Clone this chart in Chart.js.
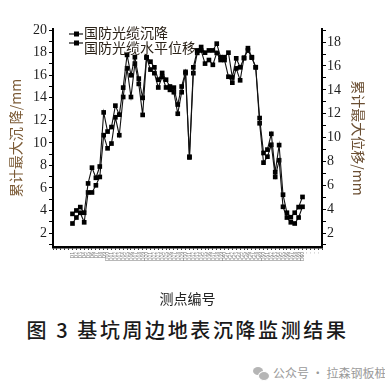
<!DOCTYPE html>
<html lang="zh">
<head>
  <meta charset="UTF-8">
  <title>基坑周边地表沉降监测结果</title>
  <style>
    body {
      margin: 0;
      background: #fff;
      width: 385px;
      height: 389px;
      position: relative;
      overflow: hidden;
      font-family: "Noto Sans CJK SC", sans-serif;
    }
    #chartBox {
      position: absolute;
      left: 0;
      top: 0;
      width: 385px;
      height: 312px;
    }
    .caption {
      position: absolute;
      left: 0;
      top: 316px;
      width: 375px;
      text-align: center;
      font-size: 20px;
      line-height: 28px;
      letter-spacing: 2.6px;
      color: #1a1a1a;
      font-weight: 500;
    }
    .mark {
      position: absolute;
      left: 253px;
      top: 364px;
      font-size: 12px;
      line-height: 18px;
      color: #9a9a9a;
      white-space: nowrap;
    }
    /* little wechat-like icon */
    .mark .icon {
      display: inline-block;
      position: relative;
      width: 15px;
      height: 13px;
      vertical-align: -2px;
      margin-right: 5px;
    }
    .mark .icon i {
      position: absolute;
      border-radius: 50%;
      background: #b5b5b5;
    }
    .mark .icon i.a { left: 0; top: 0; width: 10px; height: 8px; }
    .mark .icon i.b { left: 5px; top: 4px; width: 10px; height: 8px; border: 1px solid #fff; }
  </style>
</head>
<body>
  <div id="chartBox">
    <canvas id="monitorChart" width="385" height="312"></canvas>
  </div>
  <div class="caption">图 3 基坑周边地表沉降监测结果</div>
  <div class="mark"><span class="icon"><i class="a"></i><i class="b"></i></span>公众号 · 拉森钢板桩</div>

  <script src="https://cdn.jsdelivr.net/npm/chart.js"></script>
  <script>
    // measuring points (the tick labels are too small to read, so they are simple ids)
    const pointNames = [
      'D1', 'D2', 'D3', 'D4', 'D5', 'D6', 'D7', 'D8', 'D9', 'D10',
      'D11', 'D12', 'D13', 'D14', 'D15', 'D16', 'D17', 'D18', 'D19', 'D20',
      'D21', 'D22', 'D23', 'D24', 'D25', 'D26', 'D27', 'D28', 'D29', 'D30',
      'D31', 'D32', 'D33', 'D34', 'D35', 'D36', 'D37', 'D38', 'D39', 'D40',
      'D41', 'D42', 'D43', 'D44', 'D45', 'D46', 'D47', 'D48', 'D49', 'D50',
      'D51', 'D52', 'D53', 'D54', 'D55', 'D56', 'D57', 'D58', 'D59', 'D60'
    ];
    // empty slots at both ends of the axis
    const leadSlots = ['', '', '', '', ''];
    const tailSlots = ['-', '-', '-', '-', ''];

    // 国防光缆沉降 (left axis, mm)
    const settlement = [
      3.7, 4.0, 4.3, 3.8, 6.4, 7.8, 6.9, 7.9, 12.7, 11.0,
      11.4, 13.3, 12.5, 14.9, 17.8, 16.0, 17.6, 15.7, 14.0, 17.6,
      17.2, 16.7, 15.6, 16.2, 15.6, 15.0, 14.9, 13.4, 15.0, 16.3,
      8.7, 16.7, 18.2, 18.5, 18.0, 18.2, 18.2, 18.8, 17.6, 17.6,
      18.0, 15.8, 17.5, 16.7, 17.5, 18.4, 17.6, 16.7, 12.2, 9.1,
      9.4, 10.8, 7.4, 9.8, 5.4, 3.8, 3.4, 3.8, 4.3, 5.2
    ];
    // 国防光缆水平位移 (right axis, mm)
    const horizontal = [
      2.8, 3.3, 3.7, 2.9, 5.4, 5.4, 6.0, 6.7, 10.2, 9.1,
      9.5, 11.7, 10.2, 13.4, 15.8, 13.4, 16.2, 14.5, 11.9, 16.7,
      15.7, 15.4, 14.2, 15.1, 14.2, 14.0, 13.8, 12.0, 13.8, 15.4,
      8.4, 15.4, 17.1, 17.3, 16.2, 16.5, 16.1, 17.1, 16.5, 16.5,
      15.1, 14.6, 15.8, 14.8, 16.7, 17.3, 16.7, 15.9, 11.2, 7.9,
      8.4, 9.4, 6.7, 8.1, 4.2, 3.3, 2.9, 2.8, 3.3, 4.2
    ];

    const labels = leadSlots.concat(pointNames, tailSlots);
    const pad = arr => leadSlots.map(() => null).concat(arr, tailSlots.map(() => null));

    const serif = 'Liberation Serif';
    const cjk = 'Noto Sans CJK SC';

    // legend drawn inside the plot, line + square marker like the original
    const insideLegend = {
      id: 'insideLegend',
      afterDraw(chart) {
        const ctx = chart.ctx;
        const rows = [[34, 33], [43, 48]];
        ctx.save();
        chart.data.datasets.forEach((ds, i) => {
          const [ly, ty] = rows[i];
          ctx.strokeStyle = '#111';
          ctx.lineWidth = 1.2;
          ctx.beginPath();
          ctx.moveTo(69, ly);
          ctx.lineTo(83, ly);
          ctx.stroke();
          ctx.fillStyle = '#000';
          ctx.fillRect(74, ly - 2.5, 5, 5);
          ctx.fillStyle = '#2b2218';
          ctx.font = '14px "' + cjk + '"';
          ctx.textBaseline = 'middle';
          ctx.fillText(ds.label, 84, ty);
        });
        ctx.restore();
      }
    };

    // one tick per whole millimetre, labels on the even ones
    const wholeTicks = axis => {
      const ticks = [];
      for (let v = Math.ceil(axis.min); v <= Math.floor(axis.max); v++) ticks.push({ value: v });
      axis.ticks = ticks;
    };
    const evenLabel = v => (Math.round(v) % 2 === 0 ? String(Math.round(v)) : '');

    const ctx = document.getElementById('monitorChart').getContext('2d');
    new Chart(ctx, {
      type: 'line',
      data: {
        labels: labels,
        datasets: [
          {
            label: '国防光缆沉降',
            data: pad(settlement),
            yAxisID: 'y',
            borderColor: '#111',
            borderWidth: 1.1,
            pointStyle: 'rect',
            pointRadius: 3.3,
            pointBackgroundColor: '#000',
            pointBorderWidth: 0,
            tension: 0
          },
          {
            label: '国防光缆水平位移',
            data: pad(horizontal),
            yAxisID: 'y1',
            borderColor: '#111',
            borderWidth: 1.1,
            pointStyle: 'rect',
            pointRadius: 3.3,
            pointBackgroundColor: '#000',
            pointBorderWidth: 0,
            tension: 0
          }
        ]
      },
      options: {
        responsive: false,
        animation: false,
        devicePixelRatio: 1,
        layout: { padding: { top: 29, left: 0, right: 0, bottom: 0 } },
        plugins: {
          legend: { display: false },
          tooltip: { enabled: false }
        },
        scales: {
          x: {
            type: 'category',
            offset: false,
            border: { display: true, color: '#000', width: 2.5 },
            grid: { drawOnChartArea: false, drawTicks: true, tickLength: 3, color: '#000', tickWidth: 0.8 },
            ticks: {
              autoSkip: false,
              minRotation: 90,
              maxRotation: 90,
              padding: 2,
              color: '#777',
              font: { family: cjk, size: 5 }
            },
            title: {
              display: true,
              text: '测点编号',
              color: '#222',
              font: { family: cjk, size: 14 },
              padding: { top: 0, bottom: 5 }
            },
            afterFit: scale => { scale.height = 65; }
          },
          y: {
            position: 'left',
            min: 0.76,
            max: 20.1,
            border: { display: true, color: '#000', width: 2 },
            grid: { drawOnChartArea: false, drawTicks: true, tickLength: 4, color: '#000', tickWidth: 1 },
            ticks: {
              stepSize: 1,
              autoSkip: false,
              padding: 2,
              color: '#1e1e1e',
              font: { family: serif, size: 14 },
              callback: evenLabel
            },
            afterBuildTicks: wholeTicks,
            title: {
              display: true,
              text: '累计最大沉 降/mm',
              color: '#7b5a35',
              font: { family: cjk, size: 14 },
              padding: { top: 7, bottom: 0 }
            },
            afterFit: scale => { scale.width = 53; }
          },
          y1: {
            position: 'right',
            min: 0.83,
            max: 19.1,
            border: { display: true, color: '#000', width: 2 },
            grid: { drawOnChartArea: false, drawTicks: true, tickLength: 4, color: '#000', tickWidth: 1 },
            ticks: {
              stepSize: 1,
              autoSkip: false,
              padding: 1,
              color: '#1e1e1e',
              font: { family: serif, size: 14 },
              callback: evenLabel
            },
            afterBuildTicks: wholeTicks,
            title: {
              display: true,
              text: '累计最大位移/mm',
              color: '#6b4f33',
              font: { family: cjk, size: 14 },
              padding: { top: 18, bottom: 0 }
            },
            afterFit: scale => { scale.width = 63; }
          }
        }
      },
      plugins: [insideLegend]
    });
  </script>
</body>
</html>
